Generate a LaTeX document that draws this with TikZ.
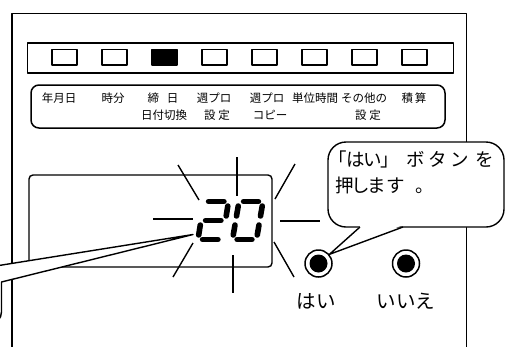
\documentclass[tikz,border=0pt]{standalone}
\usepackage{fontspec}
\newfontfamily\jp{Noto Sans CJK JP}
\usetikzlibrary{calc}
\begin{document}
\begin{tikzpicture}[x=1pt,y=-1pt,line join=round,
  frame/.style={line width=1.4pt},
  led/.style={draw,line width=1.5pt,minimum width=25pt,minimum height=15.5pt,inner sep=0pt},
  lbl/.style={font=\jp\fontsize{11.5}{13}\selectfont,inner sep=0pt},
  ray/.style={line width=1.4pt},
  seg/.style={line width=5.6pt,line cap=round,shorten <=4.6pt,shorten >=4.6pt},
  btn/.style={circle,draw,fill=white,line width=1.5pt,minimum size=27pt,inner sep=0pt},
  big/.style={font=\jp\fontsize{19.5}{22}\selectfont,inner sep=0pt},
  say/.style={font=\jp\fontsize{18.5}{21}\selectfont,inner sep=0pt,anchor=base west}]
\useasboundingbox (0,0) rectangle (506,346);
% panel
\draw[frame] (12,352) -- (12,13.3) -- (466.7,13.3) -- (466.7,352);
% LED bar
\node[draw,line width=1.5pt,minimum width=426pt,minimum height=30pt,inner sep=0pt] (bar) at (240.5,57.8) {};
\foreach \i in {0,1,3,4,5,6,7}{\node[led] (led\i) at (64.5+50*\i,57) {};}
\node[led,fill=black] (led2) at (164.5,57) {};
% key labels box
\node[draw,line width=1.5pt,rounded corners=8pt,minimum width=414pt,minimum height=43pt,inner sep=0pt] (keys) at (238,106.5) {};
\node[lbl] (k1) at (59,98) {年月日};
\node[lbl] (k2) at (113,98) {時分};
\node[lbl] (k3) at (163,98) {締\hspace{8pt}日};
\node[lbl] (k3b) at (164,115) {日付切換};
\node[lbl] (k4) at (214,98) {週プロ};
\node[lbl] (k4b) at (217,115) {設\hspace{3pt}定};
\node[lbl] (k5) at (267,98) {週プロ};
\node[lbl] (k5b) at (270,115) {コピー};
\node[lbl] (k6) at (315,98) {単位時間};
\node[lbl] (k7) at (364,98) {その他の};
\node[lbl] (k7b) at (368,115) {設\hspace{3pt}定};
\node[lbl] (k8) at (414,98) {積\hspace{2pt}算};
% display
\node[draw,line width=1.4pt,rounded corners=4pt,minimum width=243pt,minimum height=92pt,inner sep=0pt] (display) at (150.5,221) {};
% rays
\draw[ray] (237,157) -- (237,196);
\draw[ray] (233,255) -- (233,293);
\draw[ray] (153,219) -- (193,219);
\draw[ray] (280,221) -- (320,221);
\draw[ray] (178,165) -- (199,200);
\draw[ray] (295,164) -- (275,199);
\draw[ray] (193,243) -- (173,277);
\draw[ray] (274,242) -- (294,277);
% digit 2
\draw[seg] (204,201.5) -- (228.5,201.5);
\draw[seg] (228.5,201.5) -- (225.5,220.5);
\draw[seg] (225.5,220.5) -- (201,220.5);
\draw[seg] (201,220.5) -- (198,239.5);
\draw[seg] (198,239.5) -- (222.5,239.5);
% digit 0
\draw[seg] (239,201.5) -- (263,201.5);
\draw[seg] (263,201.5) -- (259.75,220.5);
\draw[seg] (259.75,220.5) -- (256.5,239.5);
\draw[seg] (256.5,239.5) -- (232.5,239.5);
\draw[seg] (232.5,239.5) -- (235.75,220.5);
\draw[seg] (235.75,220.5) -- (239,201.5);
% left callout (cut off)
\coordinate (tip) at (193,234.5);
\fill[white] (-3,265.8) -- (tip) -- (1.5,282) -- (1.5,352) -- (-3,352) -- cycle;
\draw[frame] (-3,265.8) -- (tip) -- (1.5,282) -- (1.5,312) arc (0:90:12);
% right callout
\node[draw,fill=white,line width=1.4pt,rounded corners=18pt,minimum width=176pt,minimum height=85pt,inner sep=0pt] (callout) at (416,184.5) {};
% buttons
\node[btn] (yes) at (318.5,263.5) {};
\fill (yes.center) circle (9pt);
\node[btn] (no) at (406,263.5) {};
\fill (no.center) circle (9pt);
% pointer
\coordinate (pa) at (360,227);
\coordinate (pb) at (403,227);
\fill[white] (361,225.4) -- (yes.40) -- (402,225.4) -- cycle;
\draw[frame] (pa) -- (yes.40) -- (pb);
% callout text
\node[say] (t1) at (338,166) {\makebox[0pt]{「}\hspace{17.5pt}\makebox[0pt]{は}\hspace{17pt}\makebox[0pt]{い}\hspace{17.5pt}\makebox[0pt]{」}\hspace{25.5pt}\makebox[0pt]{ボ}\hspace{22pt}\makebox[0pt]{タ}\hspace{22pt}\makebox[0pt]{ン}\hspace{25pt}\makebox[0pt]{を}};
\node[say] (t2) at (345,192) {\makebox[0pt]{押}\hspace{16pt}\makebox[0pt]{し}\hspace{15.5pt}\makebox[0pt]{ま}\hspace{19pt}\makebox[0pt]{す}\hspace{29pt}\makebox[0pt]{。}};
% button labels
\node[big] (yeslbl) at (316,301.5) {はい};
\node[big] (nolbl) at (406,301.5) {いいえ};
\end{tikzpicture}
\end{document}
